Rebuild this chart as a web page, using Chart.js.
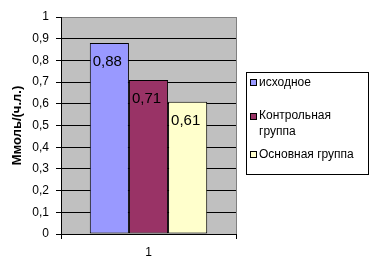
<!DOCTYPE html>
<html>
<head>
<meta charset="utf-8">
<script src="https://cdn.jsdelivr.net/npm/chart.js@4"></script>
<style>
  html, body { margin: 0; padding: 0; background: #fff; }
  #wrap { width: 370px; height: 270px; }
</style>
</head>
<body>
<div id="wrap"><canvas id="barchart" width="370" height="270"></canvas></div>
<script>
// data
var categories = ['1'];
var seriesNames = ['исходное', 'Контрольная группа', 'Основная группа'];
var seriesValues = [[0.88], [0.71], [0.61]];
var seriesColors = ['#9999FF', '#993366', '#FFFFCC'];
var yTicks = [0, 0.1, 0.2, 0.3, 0.4, 0.5, 0.6, 0.7, 0.8, 0.9, 1];
var yTitle = 'Ммоль/(ч.л.)';

var FONT = '"Liberation Sans", Arial, sans-serif';

function comma(v) {
	return String(+v.toFixed(2)).replace('.', ',');
}

// value labels inside the top of each bar
var barLabels = {
	id: 'barLabels',
	afterDatasetsDraw: function(chart) {
		var ctx = chart.ctx;
		ctx.save();
		ctx.font = '15px ' + FONT;
		ctx.fillStyle = '#000';
		ctx.textAlign = 'center';
		ctx.textBaseline = 'middle';
		chart.data.datasets.forEach(function(ds, i) {
			chart.getDatasetMeta(i).data.forEach(function(bar, j) {
				ctx.fillText(comma(ds.data[j]), bar.x - 2, bar.y + 19);
			});
		});
		ctx.restore();
	}
};

// excel-like legend box on the right
var boxLegend = {
	id: 'boxLegend',
	afterDraw: function(chart) {
		var ctx = chart.ctx;
		var left = 246.5, top = 72.5, right = 368.5, bottom = 174.5;
		var rows = [82.5, 116, 154.5];
		ctx.save();
		ctx.strokeStyle = '#000';
		ctx.lineWidth = 1;
		ctx.strokeRect(left, top, right - left, bottom - top);
		ctx.font = '12px ' + FONT;
		ctx.textBaseline = 'middle';
		ctx.textAlign = 'left';
		chart.data.datasets.forEach(function(ds, i) {
			var y = rows[i];
			ctx.fillStyle = ds.backgroundColor;
			ctx.fillRect(250, Math.round(y - 3.5), 7, 7);
			ctx.strokeStyle = '#000';
			ctx.strokeRect(250.5, Math.round(y - 3.5) + 0.5, 6, 6);
			// wrap words
			var words = ds.label.split(' ');
			var lines = [], cur = '';
			words.forEach(function(w) {
				var t = cur ? cur + ' ' + w : w;
				if (cur && ctx.measureText(t).width > 108) { lines.push(cur); cur = w; }
				else cur = t;
			});
			lines.push(cur);
			ctx.fillStyle = '#000';
			lines.forEach(function(l, k) {
				ctx.fillText(l, 259, y + k * 16);
			});
		});
		ctx.restore();
	}
};

new Chart(document.getElementById('barchart'), {
	type: 'bar',
	data: {
		labels: categories,
		datasets: seriesNames.map(function(name, i) {
			return {
				label: name,
				data: seriesValues[i],
				backgroundColor: seriesColors[i],
				borderColor: '#000',
				borderWidth: 1,
				borderSkipped: false,
				categoryPercentage: 0.671,
				barPercentage: 1
			};
		})
	},
	options: {
		responsive: false,
		animation: false,
		layout: { padding: { top: 17, right: 134, bottom: 0, left: 0 } },
		plugins: {
			legend: { display: false },
			tooltip: { enabled: false }
		},
		scales: {
			x: {
				afterFit: function(s) { s.height = 36; },
				grid: {
					offset: true,
					color: function(c) { return c.index === 0 ? '#000' : '#808080'; },
					tickColor: '#000',
					tickLength: 5,
					drawOnChartArea: true
				},
				border: { color: '#000', width: 1 },
				ticks: { color: '#000', padding: 6, font: { family: FONT, size: 12 } }
			},
			y: {
				min: 0,
				max: 1,
				afterFit: function(s) { s.width = 61; },
				afterBuildTicks: function(s) { s.ticks = yTicks.map(function(v) { return { value: v }; }); },
				grid: {
					color: function(c) { return c.tick && c.tick.value === 1 ? '#808080' : '#000'; },
					tickColor: '#000',
					tickLength: 5
				},
				border: { color: '#000', width: 1 },
				ticks: {
					color: '#000',
					padding: 7,
					font: { family: FONT, size: 12 },
					callback: function(v) { return comma(v); }
				},
				title: {
					display: true,
					text: yTitle,
					color: '#000',
					padding: { top: 10, bottom: 0 },
					font: { family: FONT, size: 13, weight: 'bold' }
				}
			}
		}
	},
	plugins: [barLabels, boxLegend, {
		id: 'plotBg',
		beforeDraw: function(chart) {
			var a = chart.chartArea, ctx = chart.ctx;
			ctx.save();
			ctx.fillStyle = '#C0C0C0';
			ctx.fillRect(a.left, a.top, a.right - a.left, a.bottom - a.top);
			ctx.restore();
		}
	}]
});
</script>
</body>
</html>
